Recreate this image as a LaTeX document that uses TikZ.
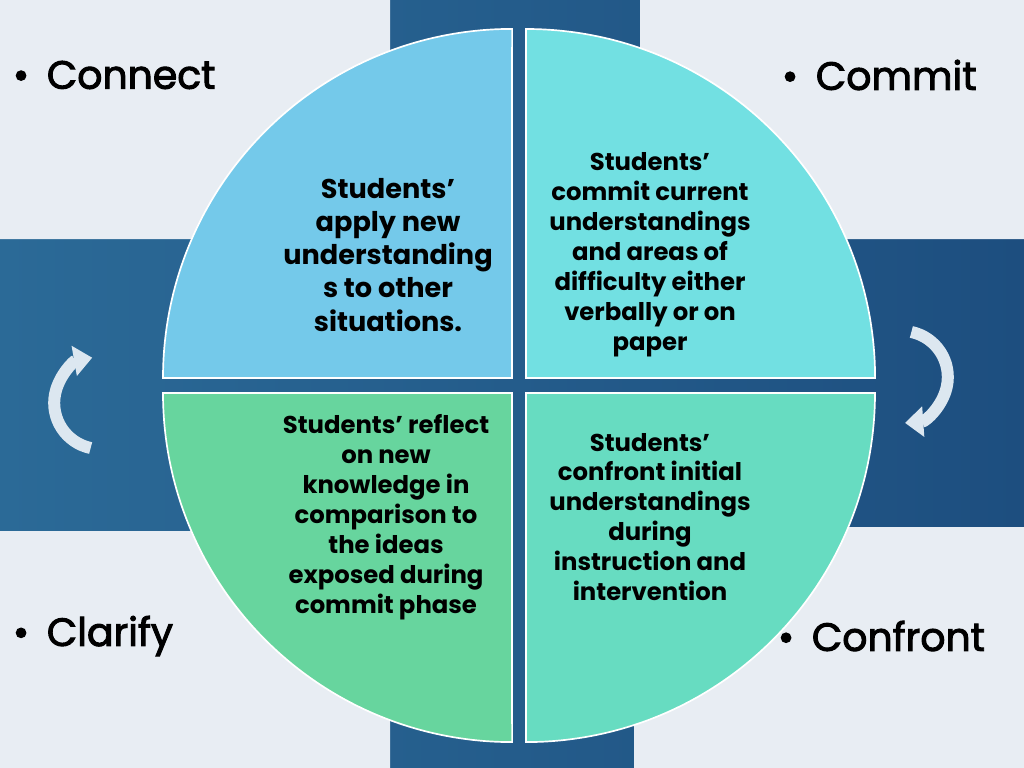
\documentclass[tikz,border=0pt]{standalone}
\usepackage{fontspec}
\setmainfont{Poppins}
\usetikzlibrary{arrows.meta}

\definecolor{bgleft}{HTML}{2B6A97}
\definecolor{bgright}{HTML}{1D4E7F}
\definecolor{panelgray}{HTML}{E8EDF3}
\definecolor{connectfill}{HTML}{74C9EA}
\definecolor{commitfill}{HTML}{72E0E2}
\definecolor{clarifyfill}{HTML}{67D59E}
\definecolor{confrontfill}{HTML}{67DCC1}
\definecolor{turncolor}{HTML}{DCE7F0}

\tikzset{
  panel/.style={fill=panelgray, rounded corners=0.4cm},
  quarter/.style={draw=white, line width=1.2pt},
  phasetext/.style={align=center, font=\bfseries\fontsize{17.3}{21.3}\selectfont},
  phaselabel/.style={anchor=west, font=\fontsize{28}{30}\selectfont\addfontfeature{FakeBold=2.5}},
  turnarrow/.style={draw=turncolor, line width=0.3cm, -{Triangle[width=21pt,length=13pt]}},
}

\begin{document}
\begin{tikzpicture}[x=0.025cm,y=0.025cm]
\useasboundingbox (0,0) rectangle (1024,-768);
\begin{scope}
\clip (0,0) rectangle (1024,-768);
\shade[left color=bgleft,right color=bgright] (0,0) rectangle (1024,-768);
% corner panels
\fill[panel] (-30,30) rectangle (390,-239);
\fill[panel] (640,30) rectangle (1054,-239);
\fill[panel] (-30,-531) rectangle (390,-798);
\fill[panel] (634,-527) rectangle (1054,-798);
\end{scope}

% the four quarters
\def\rad{8.725cm}
\filldraw[quarter, fill=connectfill] (512,-378) -- ++(-349,0) arc[start angle=180, end angle=90, radius=\rad] -- cycle;
\filldraw[quarter, fill=commitfill] (526,-378) -- ++(0,349) arc[start angle=90, end angle=0, radius=\rad] -- cycle;
\filldraw[quarter, fill=clarifyfill] (512,-393) -- ++(-349,0) arc[start angle=180, end angle=270, radius=\rad] -- cycle;
\filldraw[quarter, fill=confrontfill] (526,-393) -- ++(349,0) arc[start angle=0, end angle=-90, radius=\rad] -- cycle;

\node[phasetext, font=\bfseries\fontsize{19.3}{23.5}\selectfont] (connecttext) at (388,-255)
  {Students’\\apply new\\understanding\\s to other\\situations.};
\node[phasetext] (committext) at (650,-255)
  {Students’\\commit current\\understandings\\and areas of\\difficulty either\\verbally or on\\paper};
\node[phasetext] (clarifytext) at (386,-517)
  {Students’ reflect\\on new\\knowledge in\\comparison to\\the ideas\\exposed during\\commit phase};
\node[phasetext] (confronttext) at (650,-517)
  {Students’\\confront initial\\understandings\\during\\instruction and\\intervention};

% corner labels
\node[phaselabel] (connect) at (8,-75) {\textbullet\hspace{0.45em}Connect};
\node[phaselabel] (commit) at (777,-75) {\textbullet\hspace{0.45em}Commit};
\node[phaselabel] (clarify) at (8,-636) {\textbullet\hspace{0.45em}Clarify};
\node[phaselabel] (confront) at (773,-636) {\textbullet\hspace{0.45em}Confront};

% turning arrows
\coordinate (leftturn) at (100,-404);
\coordinate (rightturn) at (902,-376);
\draw[turnarrow] (leftturn) ++(258:45) arc[start angle=258, end angle=100, radius=1.15cm];
\draw[turnarrow] (rightturn) ++(78:45) arc[start angle=78, end angle=-86, radius=1.15cm];
\end{tikzpicture}
\end{document}
